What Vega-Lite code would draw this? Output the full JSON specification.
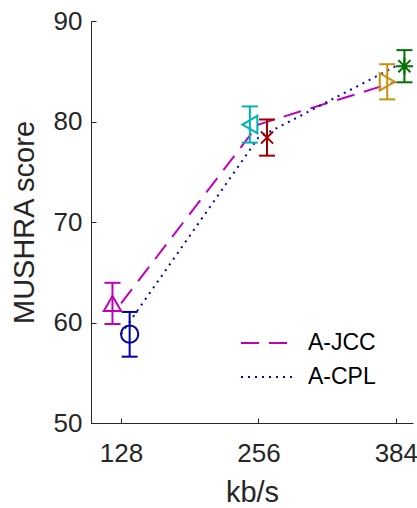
{
  "$schema": "https://vega.github.io/schema/vega-lite/v6.json",
  "autosize": {"type": "none"},
  "width": 322,
  "height": 402,
  "padding": {"left": 91, "top": 21, "right": 4, "bottom": 85},
  "background": "white",
  "config": {
    "view": {"stroke": null},
    "font": "Liberation Sans",
    "axis": {
      "grid": false,
      "domainColor": "#262626",
      "domainWidth": 1,
      "tickColor": "#262626",
      "tickWidth": 1,
      "labelColor": "#262626",
      "titleColor": "#262626",
      "labelFont": "Liberation Sans",
      "titleFont": "Liberation Sans",
      "labelFontSize": 26,
      "titleFontSize": 29,
      "titleFontWeight": "normal"
    },
    "legend": {
      "labelFont": "Liberation Sans",
      "labelFontSize": 23,
      "labelColor": "#000000"
    }
  },
  "datasets": {
    "lines": [
      {"series": "A-JCC", "kbps": 128, "score": 61.9},
      {"series": "A-JCC", "kbps": 256, "score": 79.7},
      {"series": "A-JCC", "kbps": 384, "score": 83.95},
      {"series": "A-CPL", "kbps": 128, "score": 58.85},
      {"series": "A-CPL", "kbps": 256, "score": 78.4},
      {"series": "A-CPL", "kbps": 384, "score": 85.5}
    ],
    "markers": [
      {"id": "m1", "kbps": 120, "score": 61.9, "lo": 59.85, "hi": 63.95},
      {"id": "m2", "kbps": 136, "score": 58.85, "lo": 56.6, "hi": 61.05},
      {"id": "m3", "kbps": 248, "score": 79.7, "lo": 77.9, "hi": 81.5},
      {"id": "m4", "kbps": 264, "score": 78.4, "lo": 76.6, "hi": 80.2},
      {"id": "m5", "kbps": 376, "score": 83.95, "lo": 82.2, "hi": 85.7},
      {"id": "m6", "kbps": 392, "score": 85.5, "lo": 83.9, "hi": 87.1}
    ]
  },
  "encoding": {
    "x": {
      "field": "kbps", "type": "quantitative",
      "scale": {"domain": [100, 400], "nice": false, "zero": false},
      "axis": {"values": [128, 256, 384], "title": "kb/s", "tickSize": -5, "labelPadding": 22, "titlePadding": 12}
    }
  },
  "layer": [
    {
      "data": {"name": "lines"},
      "mark": {"type": "line", "strokeWidth": 2},
      "encoding": {
        "y": {
          "field": "score", "type": "quantitative",
          "scale": {"domain": [50, 90], "nice": false, "zero": false},
          "axis": {"values": [50, 60, 70, 80, 90], "title": "MUSHRA score", "tickSize": -5, "labelPadding": 14, "titlePadding": 14}
        },
        "color": {
          "field": "series", "type": "nominal",
          "scale": {"domain": ["A-JCC", "A-CPL"], "range": ["#BF00BF", "#0000BF"]},
          "legend": null
        },
        "strokeDash": {
          "field": "series", "type": "nominal",
          "scale": {"domain": ["A-JCC", "A-CPL"], "range": [[18, 10], [2, 5]]},
          "legend": {
            "title": null, "orient": "none", "legendX": 149, "legendY": 305,
            "symbolType": "stroke", "symbolSize": 2704, "symbolStrokeWidth": 2,
            "clipHeight": 34, "rowPadding": 0, "labelOffset": 14, "padding": 0,
            "encode": {
              "symbols": {
                "update": {
                  "stroke": {"signal": "datum.value === 'A-JCC' ? '#BF00BF' : '#0000BF'"},
                  "strokeWidth": {"value": 2}
                }
              }
            }
          }
        }
      }
    },
    {
      "data": {"name": "markers"},
      "mark": {"type": "rule", "strokeWidth": 2},
      "encoding": {
        "y": {"field": "lo", "type": "quantitative"},
        "y2": {"field": "hi"},
        "color": {"field": "id", "type": "nominal", "scale": {"domain": ["m1","m2","m3","m4","m5","m6"], "range": ["#BF00BF", "#0000A8", "#00B3B3", "#A00000", "#C8900C", "#007000"]}, "legend": null}
      }
    },
    {
      "data": {"name": "markers"},
      "mark": {"type": "rule", "strokeWidth": 2, "xOffset": -8, "x2Offset": 8},
      "encoding": {
        "x2": {"field": "kbps"},
        "y": {"field": "hi", "type": "quantitative"},
        "color": {"field": "id", "type": "nominal", "scale": {"domain": ["m1","m2","m3","m4","m5","m6"], "range": ["#BF00BF", "#0000A8", "#00B3B3", "#A00000", "#C8900C", "#007000"]}, "legend": null}
      }
    },
    {
      "data": {"name": "markers"},
      "mark": {"type": "rule", "strokeWidth": 2, "xOffset": -8, "x2Offset": 8},
      "encoding": {
        "x2": {"field": "kbps"},
        "y": {"field": "lo", "type": "quantitative"},
        "color": {"field": "id", "type": "nominal", "scale": {"domain": ["m1","m2","m3","m4","m5","m6"], "range": ["#BF00BF", "#0000A8", "#00B3B3", "#A00000", "#C8900C", "#007000"]}, "legend": null}
      }
    },
    {
      "data": {"name": "markers"},
      "mark": {"type": "point", "filled": false, "strokeWidth": 2, "size": 300, "opacity": 1},
      "encoding": {
        "y": {"field": "score", "type": "quantitative"},
        "color": {"field": "id", "type": "nominal", "scale": {"domain": ["m1","m2","m3","m4","m5","m6"], "range": ["#BF00BF", "#0000A8", "#00B3B3", "#A00000", "#C8900C", "#007000"]}, "legend": null},
        "shape": {"field": "id", "type": "nominal", "scale": {"domain": ["m1","m2","m3","m4","m5","m6"], "range": ["triangle-up", "circle", "triangle-left", "M-0.7,-0.7L0.7,0.7M0.7,-0.7L-0.7,0.7", "triangle-right", "M-1,0L1,0M0,-1L0,1M-0.7,-0.7L0.7,0.7M-0.7,0.7L0.7,-0.7"]}, "legend": null}
      }
    }
  ],
  "resolve": {"scale": {"color": "independent"}}
}
